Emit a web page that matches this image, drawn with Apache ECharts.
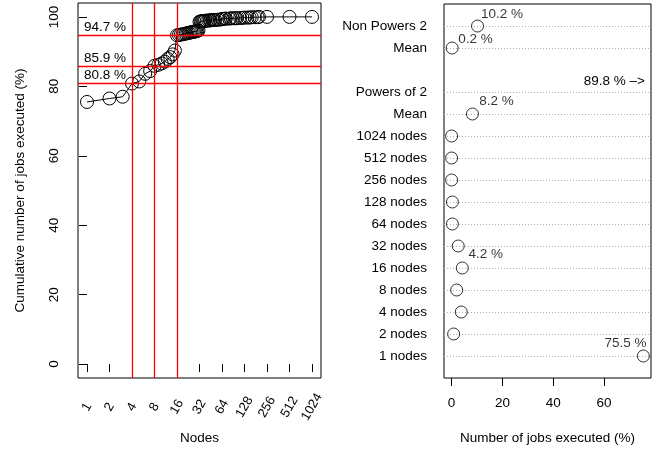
<!DOCTYPE html>
<html>
<head>
<meta charset="utf-8">
<script src="https://cdn.jsdelivr.net/npm/echarts@6/dist/echarts.min.js"></script>
<style>
  html, body { margin: 0; padding: 0; background: #fff; }
  #chart { width: 652px; height: 450px; }
</style>
</head>
<body>
<div id="chart"></div>
<script>
// left panel: cumulative share of jobs by node count
const nodeCounts = [1, 2, 3, 4, 5, 6, 7, 8, 9, 10, 11, 12, 13, 14, 15, 16,
  17, 18, 19, 20, 21, 22, 23, 24, 25, 26, 27, 28, 29, 30, 31, 32,
  33, 34, 35, 36, 37, 38, 40, 42, 44, 45, 48, 50, 52, 56, 60, 64,
  66, 70, 72, 80, 84, 90, 96, 100, 112, 120, 128, 140, 150, 160, 176, 192, 200,
  256, 512, 1024];
const cumulativePct = [75.5, 76.5, 77.0, 80.8, 81.4, 83.6, 84.4, 85.9, 86.2, 86.6, 87.1, 87.9, 88.4, 89.2, 90.3, 94.7,
  94.8, 94.9, 95.0, 95.1, 95.2, 95.3, 95.4, 95.5, 95.6, 95.7, 95.7, 95.8, 95.9, 96.0, 96.1, 98.6,
  98.7, 98.7, 98.8, 98.8, 98.8, 98.9, 98.9, 99.0, 99.0, 99.0, 99.1, 99.1, 99.1, 99.2, 99.2, 99.4,
  99.4, 99.5, 99.5, 99.5, 99.6, 99.6, 99.6, 99.6, 99.7, 99.7, 99.8, 99.8, 99.8, 99.9, 99.9, 99.9, 100.0,
  100.0, 100.0, 100.0];
const refNodes = [4, 8, 16];
const refPct = [80.8, 85.9, 94.7];
const nodeTicks = [1, 2, 4, 8, 16, 32, 64, 128, 256, 512, 1024];
const pctTicks = [0, 20, 40, 60, 80, 100];

// right panel: share of jobs per group (bottom to top)
const dotLabels = ["1 nodes", "2 nodes", "4 nodes", "8 nodes", "16 nodes", "32 nodes", "64 nodes",
  "128 nodes", "256 nodes", "512 nodes", "1024 nodes", "Mean", "Powers of 2", "", "Mean", "Non Powers 2"];
const dotValues = [75.5, 0.8, 3.8, 2.0, 4.2, 2.6, 0.3, 0.3, 0.0, 0.0, 0.0, 8.2, 89.8, null, 0.2, 10.2];
const dotTicks = [0, 20, 40, 60];

const FONT = "Liberation Sans, Arial, Helvetica, sans-serif";
const FS = 13.5;
const dotMax = 78.5;
const RED = "#ff0000";

// label placement for annotated dots (index -> offset)
const noteStyle = {
  0: { position: [9.7, -6.7], align: "right" },
  4: { position: [12.6, -7], align: "left" },
  11: { position: [13.3, -6.3], align: "left" },
  14: { position: [12.7, -2], align: "left" },
  15: { position: [10, -5.7], align: "left" }
};

const chart = echarts.init(document.getElementById("chart"), null, { renderer: "canvas" });

const leftData = nodeCounts.map((n, i) => [Math.log2(n), cumulativePct[i]]);

const dotCats = [""].concat(dotLabels, [""]);
const dotData = [];
dotValues.forEach((v, i) => {
  if (v === null || v > dotMax) return;
  const item = { value: [v, i + 1] };
  if (noteStyle[i]) {
    item.label = {
      show: true,
      formatter: v.toFixed(1) + " %",
      position: noteStyle[i].position,
      align: noteStyle[i].align,
      verticalAlign: "middle",
      color: "#000",
      fontSize: FS,
      fontFamily: FONT
    };
  }
  dotData.push(item);
});
const powersIdx = dotLabels.indexOf("Powers of 2");

const redLine = { color: RED, width: 1.3, type: "solid", opacity: 1 };
const refLines = refNodes.map(n => ({
  xAxis: Math.log2(n),
  label: { show: false }
})).concat(refPct.map(p => ({
  yAxis: p,
  label: {
    show: true,
    position: "insideStartTop",
    formatter: p.toFixed(1) + " %",
    distance: [6, 1],
    color: "#000",
    fontSize: FS,
    fontFamily: FONT
  }
})));

const option = {
  animation: false,
  color: [RED],
  textStyle: { fontFamily: FONT, color: "#000" },
  grid: [
    { left: 78, right: 331, top: 3, bottom: 72, show: true, borderColor: "#000", borderWidth: 1, backgroundColor: "transparent" },
    { left: 444, right: 1, top: 4, bottom: 72, show: true, borderColor: "#000", borderWidth: 1, backgroundColor: "transparent" }
  ],
  xAxis: [
    {
      gridIndex: 0,
      type: "value",
      min: -0.4,
      max: 10.4,
      axisLine: { show: false },
      axisTick: { show: true, length: 8, customValues: nodeTicks.map(Math.log2), lineStyle: { color: "#000" } },
      axisLabel: {
        customValues: nodeTicks.map(Math.log2),
        formatter: v => String(Math.round(Math.pow(2, v))),
        rotate: 60,
        align: "center",
        verticalAlign: "middle",
        margin: 29,
        color: "#000",
        fontSize: 13,
        fontFamily: FONT
      },
      splitLine: { show: false },
      name: "Nodes",
      nameLocation: "middle",
      nameGap: 53,
      nameTextStyle: { fontSize: FS, color: "#000", fontFamily: FONT }
    },
    {
      gridIndex: 1,
      type: "value",
      min: -3,
      max: dotMax,
      axisLine: { show: false },
      axisTick: { show: true, length: 8, customValues: dotTicks, lineStyle: { color: "#000" } },
      axisLabel: { customValues: dotTicks, margin: 18, color: "#000", fontSize: FS, fontFamily: FONT },
      splitLine: { show: false },
      name: "Number of jobs executed (%)",
      nameLocation: "middle",
      nameGap: 53,
      nameTextStyle: { fontSize: FS, color: "#000", fontFamily: FONT }
    }
  ],
  yAxis: [
    {
      gridIndex: 0,
      type: "value",
      min: -4,
      max: 104,
      axisLine: { show: false },
      axisTick: { show: true, length: 8, customValues: pctTicks, lineStyle: { color: "#000" } },
      axisLabel: { customValues: pctTicks, rotate: 90, margin: 17, color: "#000", fontSize: FS, fontFamily: FONT },
      splitLine: { show: false },
      name: "Cumulative number of jobs executed (%)",
      nameLocation: "middle",
      nameGap: 51,
      nameTextStyle: { fontSize: FS, color: "#000", fontFamily: FONT }
    },
    {
      gridIndex: 1,
      type: "category",
      data: dotCats,
      boundaryGap: false,
      axisLine: { show: false },
      axisTick: { show: false },
      axisLabel: { interval: 0, margin: 17, color: "#000", fontSize: FS, fontFamily: FONT },
      splitLine: {
        show: true,
        interval: (idx, val) => val !== "",
        lineStyle: { color: "#b0b0b0", type: [1, 2], width: 1 }
      }
    }
  ],
  series: [
    {
      // reference lines only
      type: "scatter",
      xAxisIndex: 0,
      yAxisIndex: 0,
      data: [],
      itemStyle: { color: RED },
      z: 4,
      markLine: {
        silent: true,
        symbol: "none",
        animation: false,
        lineStyle: redLine,
        data: refLines
      }
    },
    {
      type: "line",
      xAxisIndex: 0,
      yAxisIndex: 0,
      data: leftData,
      symbol: "circle",
      symbolSize: 13,
      showAllSymbol: true,
      itemStyle: { color: "rgba(0,0,0,0)", borderColor: "#000", borderWidth: 1 },
      lineStyle: { color: "#000", width: 1 },
      z: 3
    },
    {
      type: "scatter",
      xAxisIndex: 1,
      yAxisIndex: 1,
      data: dotData,
      symbol: "circle",
      symbolSize: 12,
      itemStyle: { color: "rgba(0,0,0,0)", borderColor: "#000", borderWidth: 1 },
      markPoint: {
        silent: true,
        symbol: "circle",
        symbolSize: 0,
        data: [{
          coord: [dotMax, powersIdx + 1],
          label: {
            show: true,
            formatter: dotValues[powersIdx].toFixed(1) + " % –>",
            position: [-6, -11],
            align: "right",
            verticalAlign: "middle",
            color: "#000",
            fontSize: FS,
            fontFamily: FONT
          }
        }]
      }
    }
  ]
};

chart.setOption(option);
</script>
</body>
</html>
